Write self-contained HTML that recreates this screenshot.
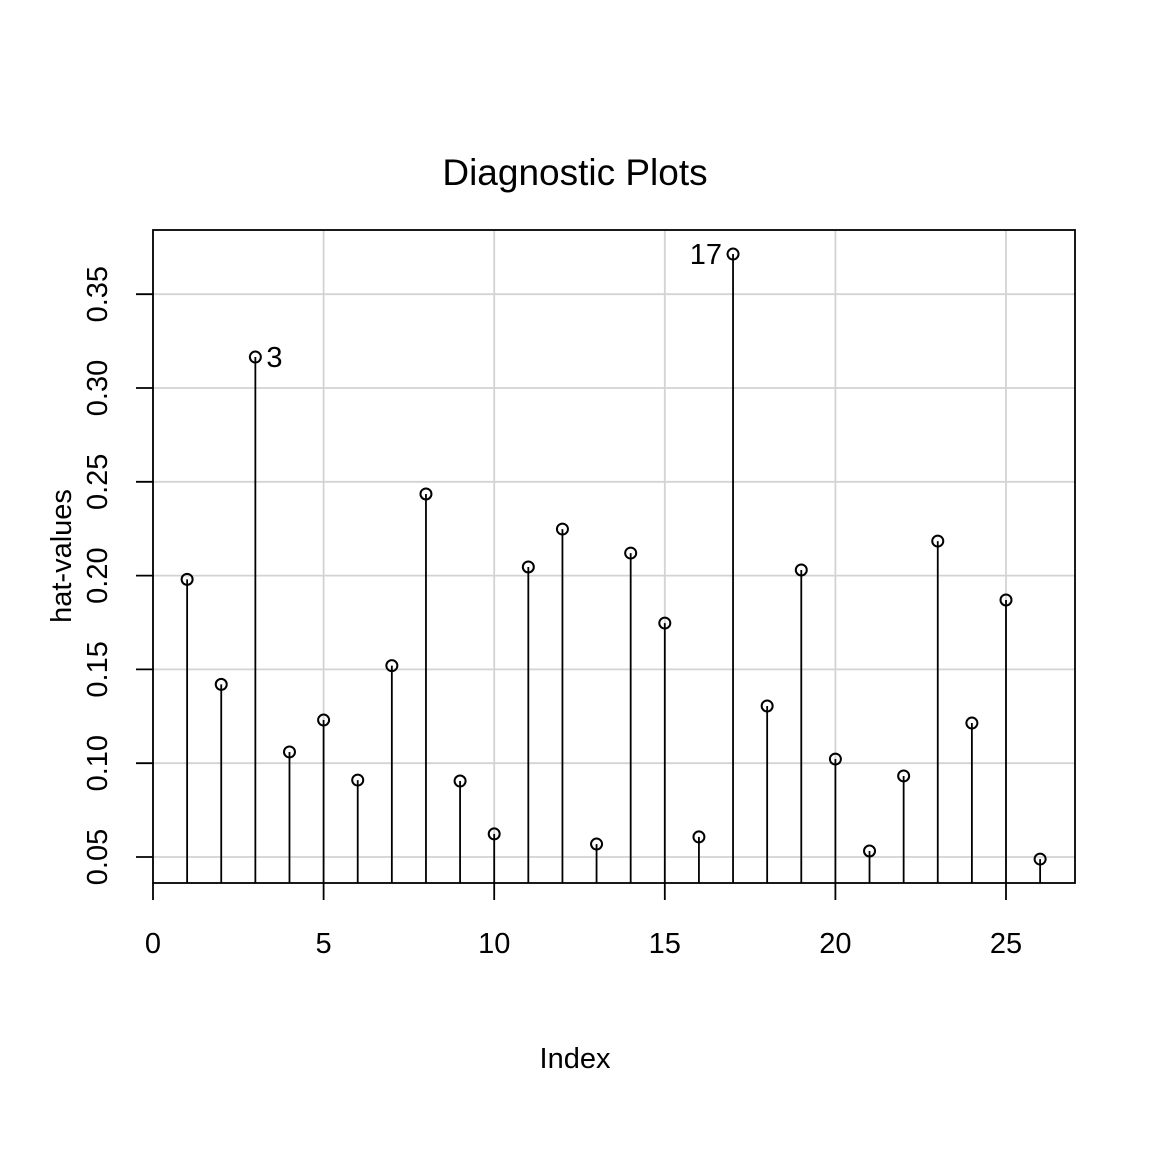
<!DOCTYPE html>
<html><head><meta charset="utf-8"><style>
body{margin:0;background:#fff}
svg{display:block;font-family:"Liberation Sans",Arial,sans-serif}
</style></head><body>
<svg id="chart" width="1152" height="1152" viewBox="0 0 1152 1152">
<rect width="1152" height="1152" fill="#fff"/>
<text x="575" y="185" font-size="37" text-anchor="middle">Diagnostic Plots</text>
<text x="575" y="1068" font-size="29" text-anchor="middle">Index</text>
<text transform="translate(71,556) rotate(-90)" font-size="29" text-anchor="middle">hat-values</text>
<g id="grid"></g><g id="axes"></g><g id="marks"></g>
<rect x="153" y="230" width="922" height="653" fill="none" stroke="#000" stroke-width="1.8"/>
</svg>
<script>
const indices=[1,2,3,4,5,6,7,8,9,10,11,12,13,14,15,16,17,18,19,20,21,22,23,24,25,26];
const hatValues=[0.198,0.142,0.3165,0.106,0.123,0.091,0.152,0.2435,0.0905,0.0623,0.2046,0.2248,0.0569,0.212,0.1747,0.0607,0.3714,0.1305,0.203,0.1022,0.0532,0.0932,0.2184,0.1214,0.187,0.0489];
const xTicks=[0,5,10,15,20,25];
const yTicks=[0.05,0.10,0.15,0.20,0.25,0.30,0.35];
const yTickLabels=["0.05","0.10","0.15","0.20","0.25","0.30","0.35"];
const labeled=[{i:3,side:"right"},{i:17,side:"left"}];
const X=v=>153+v*34.12;
const Y=v=>857-(v-0.05)*1876;
const NS="http://www.w3.org/2000/svg";
function mk(tag,attrs,parent){const e=document.createElementNS(NS,tag);for(const k in attrs)e.setAttribute(k,attrs[k]);parent.appendChild(e);return e;}
const grid=document.getElementById('grid'),axes=document.getElementById('axes'),marks=document.getElementById('marks');
xTicks.forEach(t=>{
 const g=mk('line',{x1:X(t),x2:X(t),y1:230,y2:883,stroke:'#d3d3d3','stroke-width':1.8},grid);
 
 
 const tk=mk('line',{x1:X(t),x2:X(t),y1:883,y2:900,stroke:'#000','stroke-width':1.8},axes);
 
 
 const tx=mk('text',{x:X(t),y:953,'font-size':29,'text-anchor':'middle'},axes);tx.textContent=t;
 
 
});
yTicks.forEach((t,k)=>{
 const g=mk('line',{x1:153,x2:1075,y1:Y(t),y2:Y(t),stroke:'#d3d3d3','stroke-width':1.8},grid);
 
 
 const tk=mk('line',{x1:136,x2:153,y1:Y(t),y2:Y(t),stroke:'#000','stroke-width':1.8},axes);
 
 
 const tx=mk('text',{transform:`translate(107,${Y(t)}) rotate(-90)`,'font-size':29,'text-anchor':'middle'},axes);tx.textContent=yTickLabels[k];
 
 
});
indices.forEach((i,k)=>{
 const v=hatValues[k];
 const s=mk('line',{x1:X(i),x2:X(i),y1:883,y2:Y(v),stroke:'#000','stroke-width':1.8},marks);
 
 
 const c=mk('circle',{cx:X(i),cy:Y(v),r:5.5,fill:'none',stroke:'#000','stroke-width':2},marks);
 
 
});
labeled.forEach(l=>{
 const v=hatValues[l.i-1];
 const tx=mk('text',{x:X(l.i)+(l.side==='right'?11:-11),y:Y(v)+10,'font-size':29,'text-anchor':l.side==='right'?'start':'end'},marks);
 tx.textContent=l.i;
 
 
});
</script>
</body></html>
